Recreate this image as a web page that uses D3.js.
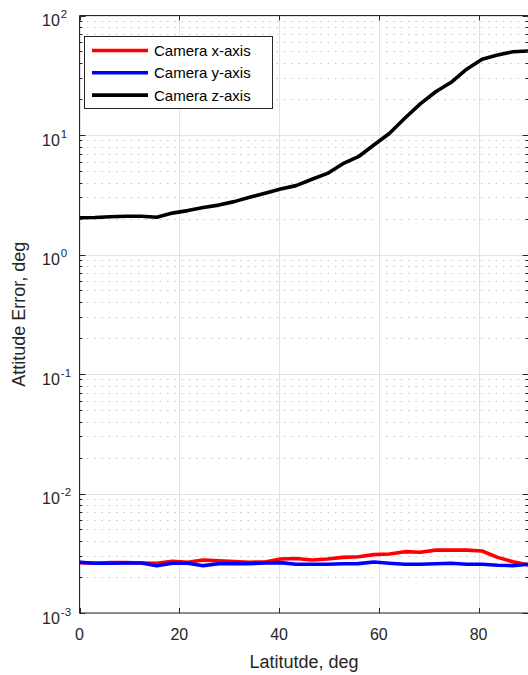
<!DOCTYPE html>
<html>
<head>
<meta charset="utf-8">
<script src="https://cdn.jsdelivr.net/npm/d3@7"></script>
<style>
  body { margin: 0; background: #fff; }
  svg { display: block; font-family: "Liberation Sans", Arial, sans-serif; }
</style>
</head>
<body>
<div id="app"></div>
<script>
// latitude samples: 30 points from 0 to 90 deg
const latitude = [0, 3.1, 6.2, 9.3, 12.4, 15.5, 18.6, 21.7, 24.8, 27.9,
  31.0, 34.1, 37.2, 40.3, 43.4, 46.6, 49.7, 52.8, 55.9, 59.0,
  62.1, 65.2, 68.3, 71.4, 74.5, 77.6, 80.7, 83.8, 86.9, 90]

const camX = [2.64e-3, 2.61e-3, 2.64e-3, 2.64e-3, 2.62e-3, 2.61e-3, 2.71e-3, 2.66e-3, 2.78e-3, 2.73e-3,
  2.69e-3, 2.66e-3, 2.67e-3, 2.83e-3, 2.86e-3, 2.78e-3, 2.83e-3, 2.92e-3, 2.96e-3, 3.08e-3,
  3.12e-3, 3.26e-3, 3.22e-3, 3.36e-3, 3.36e-3, 3.36e-3, 3.30e-3, 2.92e-3, 2.69e-3, 2.52e-3]

const camY = [2.66e-3, 2.61e-3, 2.61e-3, 2.62e-3, 2.62e-3, 2.49e-3, 2.61e-3, 2.61e-3, 2.49e-3, 2.58e-3,
  2.59e-3, 2.59e-3, 2.62e-3, 2.64e-3, 2.56e-3, 2.56e-3, 2.56e-3, 2.58e-3, 2.59e-3, 2.67e-3,
  2.61e-3, 2.56e-3, 2.56e-3, 2.58e-3, 2.61e-3, 2.56e-3, 2.56e-3, 2.51e-3, 2.49e-3, 2.56e-3]

const camZ = [2.03, 2.04, 2.07, 2.09, 2.09, 2.05, 2.22, 2.33, 2.47, 2.59,
  2.77, 3.01, 3.25, 3.53, 3.77, 4.26, 4.77, 5.75, 6.58, 8.24,
  10.3, 13.8, 18.2, 23.0, 27.6, 35.5, 43.0, 46.7, 49.8, 50.5]

const seriesNames = ['Camera x-axis', 'Camera y-axis', 'Camera z-axis']
const seriesColors = ['#ff0000', '#0000ff', '#000000']
const xTicks = [0, 20, 40, 60, 80]
const yDecades = [-3, -2, -1, 0, 1, 2]

const W = 528, H = 675
const m = { left: 79.5, right: 528.5, top: 15.5, bottom: 613 }
const axisColor = '#262626'

const svg = d3.select('#app').append('svg')
  .attr('width', W)
  .attr('height', H)

const x = d3.scaleLinear().domain([0, 90]).range([m.left, m.right])
const y = d3.scaleLog().domain([1e-3, 1e2]).range([m.bottom, m.top])

// minor values inside each decade
const minors = []
yDecades.slice(0, -1).forEach(e => {
  for (let k = 2; k <= 9; k++) minors.push(k * Math.pow(10, e))
})

const grid = svg.append('g')

grid.selectAll('line.minor')
  .data(minors)
  .enter().append('line')
  .attr('class', 'minor')
  .attr('x1', m.left).attr('x2', m.right)
  .attr('y1', d => Math.round(y(d)) + 0.5)
  .attr('y2', d => Math.round(y(d)) + 0.5)
  .attr('stroke', '#c4c4c4')
  .attr('stroke-width', 1)
  .attr('stroke-dasharray', '1.5,5.8')

grid.selectAll('line.ymaj')
  .data(yDecades)
  .enter().append('line')
  .attr('class', 'ymaj')
  .attr('x1', m.left).attr('x2', m.right)
  .attr('y1', d => Math.round(y(Math.pow(10, d))) + 0.5)
  .attr('y2', d => Math.round(y(Math.pow(10, d))) + 0.5)
  .attr('stroke', '#e3e3e3')

grid.selectAll('line.xmaj')
  .data(xTicks)
  .enter().append('line')
  .attr('class', 'xmaj')
  .attr('x1', d => Math.round(x(d)) + 0.5)
  .attr('x2', d => Math.round(x(d)) + 0.5)
  .attr('y1', m.top).attr('y2', m.bottom)
  .attr('stroke', '#e3e3e3')

// data lines
svg.append('clipPath').attr('id', 'clip')
  .append('rect')
  .attr('x', m.left).attr('y', m.top)
  .attr('width', m.right - m.left).attr('height', m.bottom - m.top)

const line = d3.line()
  .x((d, i) => x(latitude[i]))
  .y(d => y(d))

const plot = svg.append('g').attr('clip-path', 'url(#clip)')

;[camX, camY, camZ].forEach((s, i) => {
  plot.append('path')
    .datum(s)
    .attr('fill', 'none')
    .attr('stroke', seriesColors[i])
    .attr('stroke-width', 3.6)
    .attr('stroke-linejoin', 'round')
    .attr('d', line)
})

// axes box and ticks (right border falls just past the window edge)
const ax = svg.append('g')
  .attr('stroke', axisColor)
  .attr('stroke-width', 1)

ax.append('line').attr('x1', m.left).attr('x2', m.left).attr('y1', m.top).attr('y2', m.bottom)
ax.append('line').attr('x1', m.left).attr('x2', m.right).attr('y1', m.bottom).attr('y2', m.bottom)
ax.append('line').attr('x1', m.left).attr('x2', m.right).attr('y1', m.top).attr('y2', m.top)

xTicks.forEach(t => {
  const px = Math.round(x(t)) + 0.5
  ax.append('line').attr('x1', px).attr('x2', px).attr('y1', m.bottom).attr('y2', m.bottom - 5)
  ax.append('line').attr('x1', px).attr('x2', px).attr('y1', m.top).attr('y2', m.top + 5)
})

yDecades.forEach(e => {
  const py = Math.round(y(Math.pow(10, e))) + 0.5
  ax.append('line').attr('x1', m.left).attr('x2', m.left + 6).attr('y1', py).attr('y2', py)
  ax.append('line').attr('x1', m.right).attr('x2', m.right - 6).attr('y1', py).attr('y2', py)
})

minors.forEach(v => {
  const py = Math.round(y(v)) + 0.5
  ax.append('line').attr('x1', m.left).attr('x2', m.left + 3).attr('y1', py).attr('y2', py)
  ax.append('line').attr('x1', m.right).attr('x2', m.right - 3).attr('y1', py).attr('y2', py)
})

// tick labels
svg.selectAll('text.xt')
  .data(xTicks)
  .enter().append('text')
  .attr('class', 'xt')
  .attr('x', d => x(d))
  .attr('y', 640)
  .attr('text-anchor', 'middle')
  .attr('font-size', 16)
  .attr('fill', axisColor)
  .text(d => d)

const yt = svg.selectAll('text.yt')
  .data(yDecades)
  .enter().append('text')
  .attr('class', 'yt')
  .attr('x', 42)
  .attr('y', d => y(Math.pow(10, d)) + 10.5)
  .attr('font-size', 16)
  .attr('fill', axisColor)

yt.append('tspan').text('10')
yt.append('tspan')
  .attr('dy', -8)
  .attr('dx', 1)
  .attr('font-size', 11.5)
  .text(d => d)

// axis labels
svg.append('text')
  .attr('x', (m.left + m.right) / 2)
  .attr('y', 668)
  .attr('text-anchor', 'middle')
  .attr('font-size', 18)
  .attr('fill', axisColor)
  .text('Latitutde, deg')

svg.append('text')
  .attr('transform', `translate(25, ${(m.top + m.bottom) / 2}) rotate(-90)`)
  .attr('text-anchor', 'middle')
  .attr('font-size', 18)
  .attr('fill', axisColor)
  .text('Attitude Error, deg')

// legend
const lg = svg.append('g')
lg.append('rect')
  .attr('x', 84.5).attr('y', 36.5)
  .attr('width', 188).attr('height', 72)
  .attr('fill', '#fff')
  .attr('stroke', axisColor)
  .attr('stroke-width', 1)

seriesNames.forEach((name, i) => {
  const ly = 50.5 + i * 22.3
  lg.append('line')
    .attr('x1', 92).attr('x2', 148)
    .attr('y1', ly).attr('y2', ly)
    .attr('stroke', seriesColors[i])
    .attr('stroke-width', 3.6)
  lg.append('text')
    .attr('x', 154)
    .attr('y', ly + 5.5)
    .attr('font-size', 15)
    .attr('fill', '#000')
    .text(name)
})
</script>
</body>
</html>
